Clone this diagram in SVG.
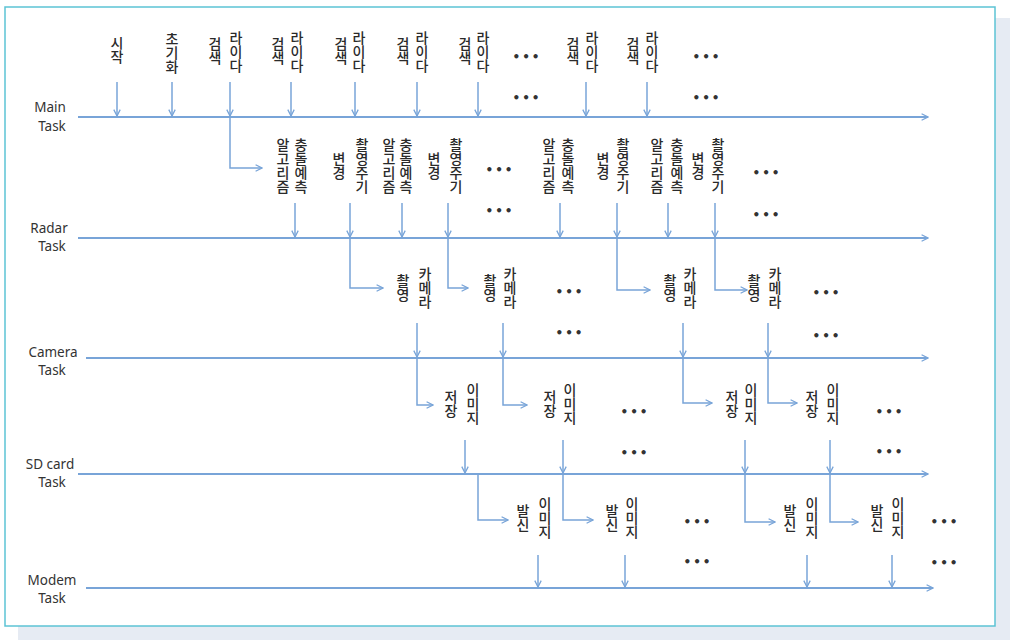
<svg xmlns="http://www.w3.org/2000/svg" width="1014" height="644" viewBox="0 0 1014 644">
<style>
.lane{stroke:#78a4d8;stroke-width:2;fill:none;marker-end:url(#ah)}
.arr{stroke:#78a4d8;stroke-width:1.5;fill:none;marker-end:url(#ah)}
.v{font-family:"Noto Sans CJK KR","Noto Sans",sans-serif;font-size:14px;font-weight:500;fill:#2a2a2a;text-anchor:middle;writing-mode:vertical-rl;text-orientation:upright}
.lbl{font-family:"Noto Sans","Liberation Sans",sans-serif;font-size:13.5px;fill:#333;text-anchor:middle;dominant-baseline:central}
.dots{font-family:"DejaVu Sans",sans-serif;font-size:12px;font-weight:bold;fill:#333;text-anchor:middle;dominant-baseline:central;letter-spacing:2px}
</style>
<defs>
<marker id="ah" viewBox="0 0 10 10" refX="9" refY="5" markerWidth="8" markerHeight="8" markerUnits="userSpaceOnUse" orient="auto">
<path d="M1,1 L9,5 L1,9" fill="none" stroke="#78a4d8" stroke-width="1.6"/>
</marker>
</defs>
<rect x="18" y="18" width="992" height="622" fill="#e6ebf3"/>
<rect x="5" y="7" width="990" height="619" fill="#fff" stroke="#5cc3d5" stroke-width="1.5"/>

<g id="labels">
<text class="lbl" x="50" y="107">Main</text><text class="lbl" x="52" y="126">Task</text>
<text class="lbl" x="49" y="228">Radar</text><text class="lbl" x="52" y="246">Task</text>
<text class="lbl" x="53" y="352">Camera</text><text class="lbl" x="52" y="370">Task</text>
<text class="lbl" x="50" y="464">SD card</text><text class="lbl" x="52" y="482">Task</text>
<text class="lbl" x="52" y="580">Modem</text><text class="lbl" x="52" y="598">Task</text>
</g>

<g id="connectors">
<path class="lane" d="M78,117 H928"/>
<path class="lane" d="M78,238 H928"/>
<path class="lane" d="M86,358 H928"/>
<path class="lane" d="M78,474 H928"/>
<path class="lane" d="M86,588 H933"/>
<path class="arr" d="M117,82 V116"/>
<path class="arr" d="M172,82 V116"/>
<path class="arr" d="M230,82 V116"/>
<path class="arr" d="M291,82 V116"/>
<path class="arr" d="M355,82 V116"/>
<path class="arr" d="M417,82 V116"/>
<path class="arr" d="M478,82 V116"/>
<path class="arr" d="M586,82 V116"/>
<path class="arr" d="M647,82 V116"/>
<path class="arr" d="M230,117 V168 H262"/>
<path class="arr" d="M295,203 V237"/>
<path class="arr" d="M350,203 V237"/>
<path class="arr" d="M402,203 V237"/>
<path class="arr" d="M448,203 V237"/>
<path class="arr" d="M560,203 V237"/>
<path class="arr" d="M617,203 V237"/>
<path class="arr" d="M668,203 V237"/>
<path class="arr" d="M715,203 V237"/>
<path class="arr" d="M350,238 V288 H383"/>
<path class="arr" d="M448,238 V288 H468"/>
<path class="arr" d="M617,238 V290 H650"/>
<path class="arr" d="M715,238 V290 H747"/>
<path class="arr" d="M417,323 V357"/>
<path class="arr" d="M503,323 V357"/>
<path class="arr" d="M683,323 V357"/>
<path class="arr" d="M768,323 V357"/>
<path class="arr" d="M417,358 V405 H433"/>
<path class="arr" d="M503,358 V405 H527"/>
<path class="arr" d="M683,358 V403 H712"/>
<path class="arr" d="M768,358 V403 H797"/>
<path class="arr" d="M465,440 V473"/>
<path class="arr" d="M563,440 V473"/>
<path class="arr" d="M745,440 V473"/>
<path class="arr" d="M830,440 V473"/>
<path class="arr" d="M478,474 V520 H508"/>
<path class="arr" d="M563,474 V520 H593"/>
<path class="arr" d="M745,474 V522 H775"/>
<path class="arr" d="M830,474 V522 H858"/>
<path class="arr" d="M538,555 V587"/>
<path class="arr" d="M625,555 V587"/>
<path class="arr" d="M807,555 V587"/>
<path class="arr" d="M892,555 V587"/>
</g>

<g id="m-start"><text class="v" x="117" y="50">시작</text></g>
<g id="m-init"><text class="v" x="172" y="53">초기화</text></g>
<g id="m-lidar1"><text class="v" x="236" y="52">라이다</text><text class="v" x="215" y="51">검색</text></g>
<g id="m-lidar2"><text class="v" x="297" y="52">라이다</text><text class="v" x="278" y="51">검색</text></g>
<g id="m-lidar3"><text class="v" x="359" y="52">라이다</text><text class="v" x="341" y="51">검색</text></g>
<g id="m-lidar4"><text class="v" x="422" y="52">라이다</text><text class="v" x="403" y="51">검색</text></g>
<g id="m-lidar5"><text class="v" x="483" y="52">라이다</text><text class="v" x="465" y="51">검색</text></g>
<g id="m-dots1"><text class="dots" x="527" y="57">•••</text><text class="dots" x="527" y="98">•••</text></g>
<g id="m-lidar6"><text class="v" x="592" y="52">라이다</text><text class="v" x="573" y="51">검색</text></g>
<g id="m-lidar7"><text class="v" x="652" y="52">라이다</text><text class="v" x="633" y="51">검색</text></g>
<g id="m-dots2"><text class="dots" x="707" y="57">•••</text><text class="dots" x="707" y="98">•••</text></g>

<g id="r-pred1"><text class="v" x="301" y="166">충돌예측</text><text class="v" x="283" y="166">알고리즘</text></g>
<g id="r-period1"><text class="v" x="362" y="166">촬영주기</text><text class="v" x="339" y="166">변경</text></g>
<g id="r-pred2"><text class="v" x="406" y="166">충돌예측</text><text class="v" x="389" y="166">알고리즘</text></g>
<g id="r-period2"><text class="v" x="456" y="166">촬영주기</text><text class="v" x="434" y="166">변경</text></g>
<g id="r-dots1"><text class="dots" x="500" y="170">•••</text><text class="dots" x="500" y="211">•••</text></g>
<g id="r-pred3"><text class="v" x="568" y="166">충돌예측</text><text class="v" x="549" y="166">알고리즘</text></g>
<g id="r-period3"><text class="v" x="623" y="166">촬영주기</text><text class="v" x="603" y="166">변경</text></g>
<g id="r-pred4"><text class="v" x="677" y="166">충돌예측</text><text class="v" x="657" y="166">알고리즘</text></g>
<g id="r-period4"><text class="v" x="718" y="166">촬영주기</text><text class="v" x="698" y="166">변경</text></g>
<g id="r-dots2"><text class="dots" x="767" y="173">•••</text><text class="dots" x="767" y="215">•••</text></g>

<g id="c-shot1"><text class="v" x="425" y="288">카메라</text><text class="v" x="403" y="288">촬영</text></g>
<g id="c-shot2"><text class="v" x="510" y="288">카메라</text><text class="v" x="490" y="288">촬영</text></g>
<g id="c-dots1"><text class="dots" x="570" y="292">•••</text><text class="dots" x="570" y="333">•••</text></g>
<g id="c-shot3"><text class="v" x="690" y="288">카메라</text><text class="v" x="670" y="288">촬영</text></g>
<g id="c-shot4"><text class="v" x="775" y="288">카메라</text><text class="v" x="754" y="288">촬영</text></g>
<g id="c-dots2"><text class="dots" x="827" y="293">•••</text><text class="dots" x="827" y="336">•••</text></g>

<g id="s-save1"><text class="v" x="473" y="404">이미지</text><text class="v" x="451" y="404">저장</text></g>
<g id="s-save2"><text class="v" x="570" y="404">이미지</text><text class="v" x="550" y="404">저장</text></g>
<g id="s-dots1"><text class="dots" x="635" y="412">•••</text><text class="dots" x="635" y="453">•••</text></g>
<g id="s-save3"><text class="v" x="751" y="404">이미지</text><text class="v" x="732" y="404">저장</text></g>
<g id="s-save4"><text class="v" x="833" y="404">이미지</text><text class="v" x="812" y="404">저장</text></g>
<g id="s-dots2"><text class="dots" x="890" y="412">•••</text><text class="dots" x="890" y="452">•••</text></g>

<g id="d-send1"><text class="v" x="545" y="518">이미지</text><text class="v" x="523" y="518">발신</text></g>
<g id="d-send2"><text class="v" x="632" y="518">이미지</text><text class="v" x="612" y="518">발신</text></g>
<g id="d-dots1"><text class="dots" x="698" y="522">•••</text><text class="dots" x="698" y="562">•••</text></g>
<g id="d-send3"><text class="v" x="812" y="518">이미지</text><text class="v" x="790" y="518">발신</text></g>
<g id="d-send4"><text class="v" x="898" y="518">이미지</text><text class="v" x="877" y="518">발신</text></g>
<g id="d-dots2"><text class="dots" x="945" y="522">•••</text><text class="dots" x="945" y="563">•••</text></g>
</svg>
